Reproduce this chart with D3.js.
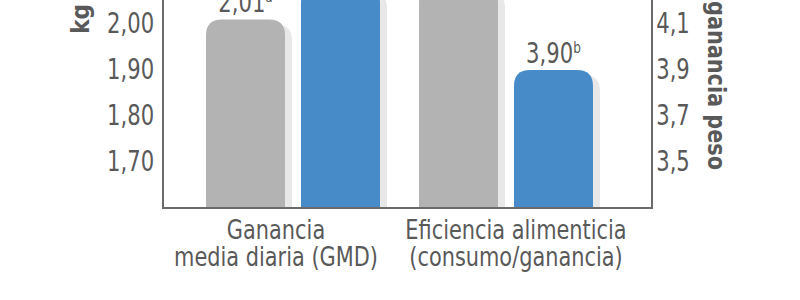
<!DOCTYPE html>
<html>
<head>
<meta charset="utf-8">
<script src="https://cdn.jsdelivr.net/npm/d3@7"></script>
<style>
  body { margin: 0; background: #fff; }
  svg { display: block; }
  text { font-family: "DejaVu Sans Condensed", "Liberation Sans Narrow", sans-serif; fill: #595959; }
  .axis-title { font-size: 24px; font-weight: bold; }
</style>
</head>
<body>
<div id="chart"></div>
<script>
// data
const categories = ["Ganancia\nmedia diaria (GMD)", "Eficiencia alimenticia\n(consumo/ganancia)"];
const series = ["control", "tratamiento"];
const gmdValues = [2.01, 2.08];          // kg, left axis
const efValues = [4.26, 3.90];           // right axis
const gmdLabels = [["2,01", "a"], ["2,08", "b"]];
const efLabels = [["4,26", "a"], ["3,90", "b"]];
const leftTicks = [1.70, 1.80, 1.90, 2.00];
const rightTicks = [3.5, 3.7, 3.9, 4.1];

const width = 800, height = 300;
const frame = { left: 163, right: 652, bottom: 208 };
const squeeze = 0.84; // the original face is a condensed one

const svg = d3.select("#chart").append("svg")
  .attr("width", width)
  .attr("height", height);

const yLeft = d3.scaleLinear().domain([1.6, 2.0]).range([frame.bottom, 24]);
const yRight = d3.scaleLinear().domain([3.3, 4.1]).range([frame.bottom, 24]);

const x0 = d3.scaleBand().domain(categories).range([206, 632]).paddingInner(0);
const x1 = d3.scaleBand().domain(series).range([0, 174]).paddingInner(0.168);
const xLabel = d3.scalePoint().domain(categories).range([276, 516]);

const color = d3.scaleOrdinal().domain(series).range(["#b3b3b3", "#478cc8"]);

// rounded-top bar path
function barPath(x, y, w, h, r) {
  r = Math.min(r, w / 2, h);
  return "M" + x + "," + (y + h)
    + "V" + (y + r)
    + "Q" + x + "," + y + " " + (x + r) + "," + y
    + "H" + (x + w - r)
    + "Q" + (x + w) + "," + y + " " + (x + w) + "," + (y + r)
    + "V" + (y + h) + "Z";
}

const groups = [
  { cat: categories[0], scale: yLeft, values: gmdValues, labels: gmdLabels },
  { cat: categories[1], scale: yRight, values: efValues, labels: efLabels }
];

const bars = [];
groups.forEach(g => {
  series.forEach((s, i) => {
    bars.push({ cat: g.cat, s: s, v: g.values[i], y: g.scale, lab: g.labels[i] });
  });
});

const plot = svg.append("g");

// shadows
plot.selectAll("path.shadow")
  .data(bars)
  .enter().append("path")
  .attr("class", "shadow")
  .attr("fill", "#e8e8e8")
  .attr("d", d => {
    const x = x0(d.cat) + x1(d.s) + 7;
    const y = d.y(d.v) + 5;
    return barPath(x, y, x1.bandwidth(), frame.bottom - y, 16);
  });

plot.selectAll("path.bar")
  .data(bars)
  .enter().append("path")
  .attr("class", "bar")
  .attr("fill", d => color(d.s))
  .attr("d", d => {
    const x = x0(d.cat) + x1(d.s);
    const y = d.y(d.v);
    return barPath(x, y, x1.bandwidth(), frame.bottom - y, 16);
  });

// value labels
const vl = plot.selectAll("text.value")
  .data(bars)
  .enter().append("text")
  .attr("class", "value")
  .attr("transform", d => "translate(" + (x0(d.cat) + x1(d.s) + x1.bandwidth() / 2) + ","
    + (d.y(d.v) - 7) + ") scale(" + squeeze + ",1)")
  .attr("text-anchor", "middle")
  .style("font-size", "28px");
vl.append("tspan").text(d => d.lab[0]);
vl.append("tspan").attr("dy", -10).style("font-size", "16px").text(d => d.lab[1]);

// frame
svg.append("path")
  .attr("fill", "none")
  .attr("stroke", "#6b6b6b")
  .attr("stroke-width", 2)
  .attr("d", "M" + frame.left + ",-5V" + frame.bottom + "H" + frame.right + "V-5");

// axes
const leftAxis = svg.append("g")
  .attr("transform", "translate(" + frame.left + ",0)")
  .call(d3.axisLeft(yLeft).tickValues(leftTicks).tickSize(0).tickPadding(10.5)
    .tickFormat(d => d3.format(".2f")(d).replace(".", ",")));
leftAxis.select(".domain").remove();

const rightAxis = svg.append("g")
  .attr("transform", "translate(" + frame.right + ",0)")
  .call(d3.axisRight(yRight).tickValues(rightTicks).tickSize(0).tickPadding(5)
    .tickFormat(d => d3.format(".1f")(d).replace(".", ",")));
rightAxis.select(".domain").remove();

svg.selectAll(".tick text")
  .attr("fill", "#595959")
  .attr("font-family", null)
  .attr("font-size", null)
  .style("font-size", "28px")
  .attr("transform", "scale(" + squeeze + ",1)");

// axis titles
svg.append("text")
  .attr("class", "axis-title")
  .attr("transform", "translate(89,4) rotate(-90)")
  .attr("text-anchor", "end")
  .text("kg");

svg.append("text")
  .attr("class", "axis-title")
  .attr("transform", "translate(708,1) rotate(90)")
  .attr("text-anchor", "start")
  .attr("textLength", 169)
  .attr("lengthAdjust", "spacingAndGlyphs")
  .text("ganancia peso");

// category labels, one text per line
const lines = [];
categories.forEach(c => {
  c.split("\n").forEach((line, i) => lines.push({ cat: c, line: line, i: i }));
});

svg.selectAll("text.cat")
  .data(lines)
  .enter().append("text")
  .attr("class", "cat")
  .attr("text-anchor", "middle")
  .style("font-size", "27px")
  .attr("transform", d => "translate(" + xLabel(d.cat) + "," + (239 + d.i * 27) + ") scale(0.86,1)")
  .text(d => d.line);
</script>
</body>
</html>
